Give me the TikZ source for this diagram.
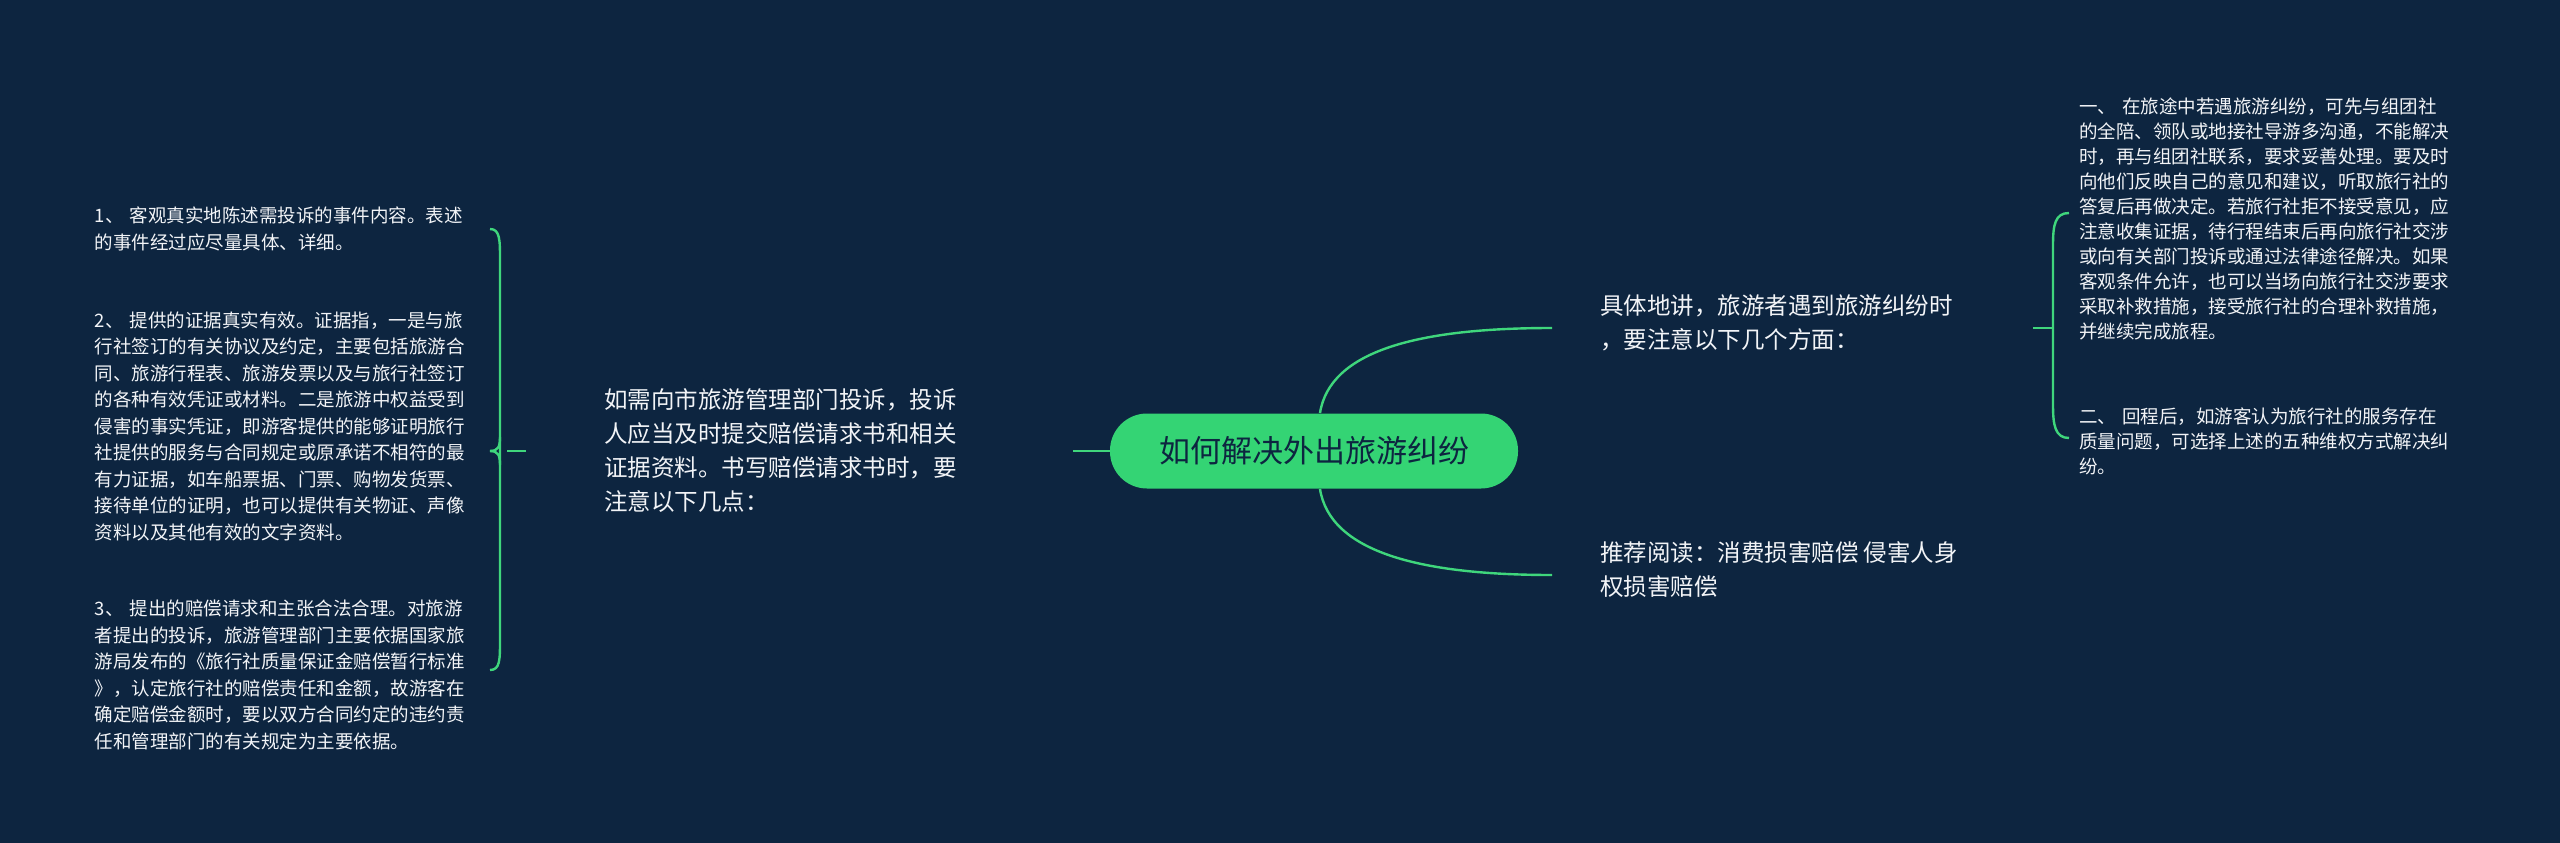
\documentclass[tikz,border=0pt]{standalone}
\usepackage{fontspec}
\setmainfont{Noto Sans CJK SC}
\definecolor{bg}{HTML}{0D2540}
\definecolor{ln}{HTML}{3FD67C}
\definecolor{cn}{HTML}{34D474}
\definecolor{tx}{HTML}{F2F4F7}
\begin{document}
\begin{tikzpicture}[x=1pt,y=-1pt,
  con/.style={draw=ln,line width=2.4pt},
  small/.style={text=tx,inner sep=0pt,align=left,text width=395pt,font=\fontsize{18.5}{26.5}\selectfont},
  rsmall/.style={text=tx,inner sep=0pt,align=left,text width=390pt,font=\fontsize{18.5}{25}\selectfont},
  mid/.style={text=tx,inner sep=0pt,align=left,font=\fontsize{23.5}{34}\selectfont}]
\fill[bg] (0,0) rectangle (2560,843);
\useasboundingbox (0,0) rectangle (2560,843);
\node[fill=cn,rounded corners=37pt,minimum width=408pt,minimum height=75pt,inner sep=0pt,text=bg,font=\fontsize{31}{36}\selectfont] (c) at (1314,451) {如何解决外出旅游纠纷};
% left main
\node[mid,anchor=west] (L) at (604,451) {如需向市旅游管理部门投诉，投诉\\人应当及时提交赔偿请求书和相关\\证据资料。书写赔偿请求书时，要\\注意以下几点：};
\coordinate (Lr) at (1073,451);
\coordinate (Ll) at (526,451);
\draw[con] (c.west) -- (Lr);
\node[small,anchor=east] (a1) at (490,229) {1、 客观真实地陈述需投诉的事件内容。表述\\的事件经过应尽量具体、详细。};
\node[small,anchor=east] (a2) at (490,426) {2、 提供的证据真实有效。证据指，一是与旅\\行社签订的有关协议及约定，主要包括旅游合\\同、旅游行程表、旅游发票以及与旅行社签订\\的各种有效凭证或材料。二是旅游中权益受到\\侵害的事实凭证，即游客提供的能够证明旅行\\社提供的服务与合同规定或原承诺不相符的最\\有力证据，如车船票据、门票、购物发货票、\\接待单位的证明，也可以提供有关物证、声像\\资料以及其他有效的文字资料。};
\node[small,anchor=east] (a3) at (490,675) {3、 提出的赔偿请求和主张合法合理。对旅游\\者提出的投诉，旅游管理部门主要依据国家旅\\游局发布的《旅行社质量保证金赔偿暂行标准\\》，认定旅行社的赔偿责任和金额，故游客在\\确定赔偿金额时，要以双方合同约定的违约责\\任和管理部门的有关规定为主要依据。};
\coordinate (a1e) at (490,229);
\coordinate (a2e) at (490,451);
\coordinate (a3e) at (490,670);
\draw[con] (Ll) -- (507,451);
\draw[con] (a1e) .. controls (500,229) and (500,240) .. (500,260) -- (500,640) .. controls (500,660) and (500,670) .. (a3e);
\draw[con] (a2e) .. controls (498,451) and (500,455) .. (500,465);
\draw[con] (a2e) .. controls (498,451) and (500,447) .. (500,437);
% right upper
\coordinate (R1) at (1552,328);
\draw[con] (1320,413) .. controls (1330,350) and (1420,328) .. (R1);
\node[mid,anchor=north west] (r1) at (1600,295) {具体地讲，旅游者遇到旅游纠纷时\\，要注意以下几个方面：};
\coordinate (R2) at (1552,575);
\draw[con] (1320,489) .. controls (1330,552) and (1420,575) .. (R2);
\node[mid,anchor=north west] (r2) at (1600,541) {推荐阅读：消费损害赔偿 侵害人身\\权损害赔偿};
% right bracket
\coordinate (Rr) at (2033,328);
\coordinate (b1) at (2069,213);
\coordinate (b2) at (2069,438);
\draw[con] (Rr) -- (2052,328);
\draw[con] (b1) .. controls (2055,213) and (2053,225) .. (2053,245) -- (2053,405) .. controls (2053,425) and (2055,438) .. (b2);
\node[rsmall,anchor=west] (s1) at (2079,219) {一、 在旅途中若遇旅游纠纷，可先与组团社\\的全陪、领队或地接社导游多沟通，不能解决\\时，再与组团社联系，要求妥善处理。要及时\\向他们反映自己的意见和建议，听取旅行社的\\答复后再做决定。若旅行社拒不接受意见，应\\注意收集证据，待行程结束后再向旅行社交涉\\或向有关部门投诉或通过法律途径解决。如果\\客观条件允许，也可以当场向旅行社交涉要求\\采取补救措施，接受旅行社的合理补救措施，\\并继续完成旅程。};
\node[rsmall,anchor=west] (s2) at (2079,441) {二、 回程后，如游客认为旅行社的服务存在\\质量问题，可选择上述的五种维权方式解决纠\\纷。};
\end{tikzpicture}
\end{document}
